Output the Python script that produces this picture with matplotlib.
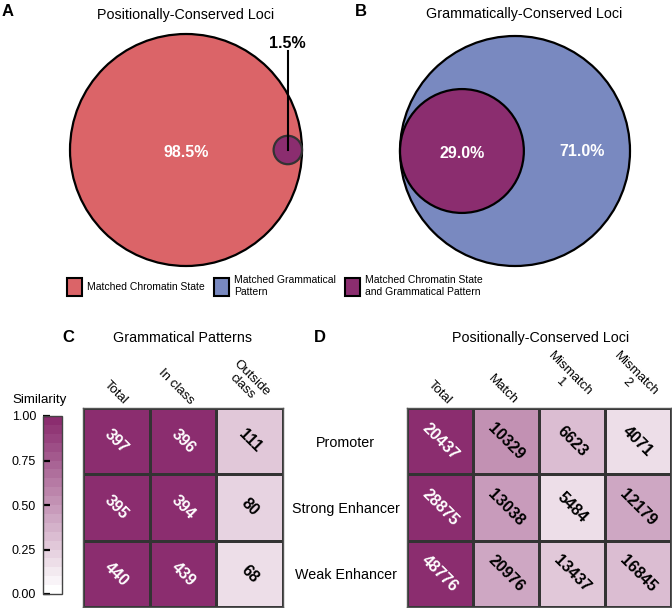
import numpy as np
import matplotlib.pyplot as plt
import matplotlib.transforms as mtransforms
from matplotlib.patches import Circle, Patch
from matplotlib.colors import LinearSegmentedColormap, ListedColormap

# Venn fractions (share of the outer set that is also in the inner set)
venn_a_inner = 0.015
venn_b_inner = 0.290
venn_a_labels = ['98.5%', '1.5%']
venn_b_labels = ['71.0%', '29.0%']

legend_labels = ['Matched Chromatin State', 'Matched Grammatical\nPattern',
                 'Matched Chromatin State\nand Grammatical Pattern']

row_labels = ['Promoter', 'Strong Enhancer', 'Weak Enhancer']
gram_cols = ['Total', 'In class', 'Outside\nclass']
gram_counts = np.array([[397, 396, 111],
                        [395, 394, 80],
                        [440, 439, 68]])
pos_cols = ['Total', 'Match', 'Mismatch\n1', 'Mismatch\n2']
pos_counts = np.array([[20437, 10329, 6623, 4071],
                       [28875, 13038, 5484, 12179],
                       [48776, 20976, 13437, 16845]])

red = '#db6468'
blue = '#7989c0'
purple = '#8b2d6f'

plt.rcParams['font.family'] = ['Liberation Sans', 'DejaVu Sans']

W, H = 672, 608
fig = plt.figure(figsize=(W / 100, H / 100), dpi=100)


def px_axes(x0, y0, x1, y1):
    return fig.add_axes([x0 / W, 1 - y1 / H, (x1 - x0) / W, (y1 - y0) / H])


# ---- A: positionally-conserved venn
ax = px_axes(56, 20, 316, 280)
lim = 130 / 116
ax.set_xlim(-lim, lim)
ax.set_ylim(-lim, lim)
ax.set_aspect('equal')
ax.axis('off')
r = np.sqrt(venn_a_inner)
ax.add_patch(Circle((0, 0), 1, fc=red, ec='black', lw=1.6))
ax.add_patch(Circle((1 - r, 0), r, fc=purple, ec='#333333', lw=1.6))
ax.plot([1 - r, 1 - r], [0, 0.85], color='black', lw=1.5)
ax.text(0, -0.02, venn_a_labels[0], color='white', fontsize=11.5, weight='bold',
        ha='center', va='center')
ax.text(1 - r, 0.92, venn_a_labels[1], color='black', fontsize=11.5, weight='bold',
        ha='center', va='center')

# ---- B: grammatically-conserved venn
ax = px_axes(385, 21, 645, 281)
lim = 130 / 115
ax.set_xlim(-lim, lim)
ax.set_ylim(-lim, lim)
ax.set_aspect('equal')
ax.axis('off')
r = np.sqrt(venn_b_inner)
ax.add_patch(Circle((0, 0), 1, fc=blue, ec='black', lw=1.6))
ax.add_patch(Circle((-1 + r, 0), r, fc=purple, ec='black', lw=1.6))
ax.text(-1 + r, -0.02, venn_b_labels[1], color='white', fontsize=11.5, weight='bold',
        ha='center', va='center')
ax.text(0.58, 0, venn_b_labels[0], color='white', fontsize=11.5, weight='bold',
        ha='center', va='center')

fig.text(186 / W, 1 - 15 / H, 'Positionally-Conserved Loci', ha='center', va='center', fontsize=10.3)
fig.text(524 / W, 1 - 14 / H, 'Grammatically-Conserved Loci', ha='center', va='center', fontsize=10.3)
for letter, x, y in [('A', 8, 11), ('B', 361, 11), ('C', 68, 337), ('D', 320, 337)]:
    fig.text(x / W, 1 - y / H, letter, ha='center', va='center', fontsize=12, weight='bold')

handles = [Patch(fc=c, ec='black', lw=1.5) for c in (red, blue, purple)]
fig.legend(handles, legend_labels, loc='center', bbox_to_anchor=(275 / W, 1 - 286 / H),
           ncol=3, frameon=False, fontsize=7.5,
           handlelength=1.4, handleheight=2.3, handletextpad=0.5, columnspacing=0.9)

# ---- heatmaps
cmap = ListedColormap(LinearSegmentedColormap.from_list('sim', ['#ffffff', purple])(np.linspace(0, 1, 20)))
label_shift = mtransforms.ScaledTranslation(5 / 100, -3 / 100, fig.dpi_scale_trans)


def heatmap(ax, counts, cols, title_x, title):
    sim = counts / counts[:, :1]
    mesh = ax.pcolormesh(sim, cmap=cmap, vmin=0, vmax=1, edgecolors='#333333', linewidth=1)
    ax.set_xlim(0, counts.shape[1])
    ax.set_ylim(counts.shape[0], 0)
    for s in ax.spines.values():
        s.set_color('#555555')
        s.set_linewidth(1)
    for i in range(counts.shape[0]):
        for j in range(counts.shape[1]):
            ax.text(j + 0.5, i + 0.5, str(counts[i, j]), rotation=-45, rotation_mode='anchor',
                    ha='center', va='center', fontsize=11.5, weight='bold',
                    color='white' if sim[i, j] > 0.6 else 'black')
    ax.set_xticks(np.arange(counts.shape[1]) + 0.5)
    ax.set_xticklabels(cols, rotation=-45, rotation_mode='anchor', ha='right', va='bottom',
                       multialignment='center', fontsize=9.5, linespacing=1.05)
    ax.xaxis.tick_top()
    ax.tick_params(axis='x', length=0, pad=3)
    for lab in ax.get_xticklabels():
        lab.set_transform(lab.get_transform() + label_shift)
    fig.text(title_x / W, 1 - 338 / H, title, ha='center', va='center', fontsize=10.3)
    return mesh


axc = px_axes(83, 408, 283, 607)
mesh = heatmap(axc, gram_counts, gram_cols, 183, 'Grammatical Patterns')
axc.set_yticks([])

axd = px_axes(407, 408, 671, 607)
heatmap(axd, pos_counts, pos_cols, 541, 'Positionally-Conserved Loci')
axd.set_yticks(np.arange(len(row_labels)) + 0.5)
axd.set_yticklabels(row_labels, ha='center', fontsize=10.3)
axd.tick_params(axis='y', length=0, pad=44)

# ---- colorbar
cax = px_axes(43, 416, 62, 594)
cb = fig.colorbar(mesh, cax=cax, ticks=[0, 0.25, 0.5, 0.75, 1.0], format='%.2f')
cb.outline.set_edgecolor('#444444')
cb.outline.set_linewidth(1)
cax.yaxis.set_ticks_position('left')
cax.tick_params(direction='in', length=5, width=1.6, color='black', labelsize=9, pad=5)
fig.text(40 / W, 1 - 400 / H, 'Similarity', ha='center', va='center', fontsize=9.6)

fig.savefig('out.png', dpi=100)
